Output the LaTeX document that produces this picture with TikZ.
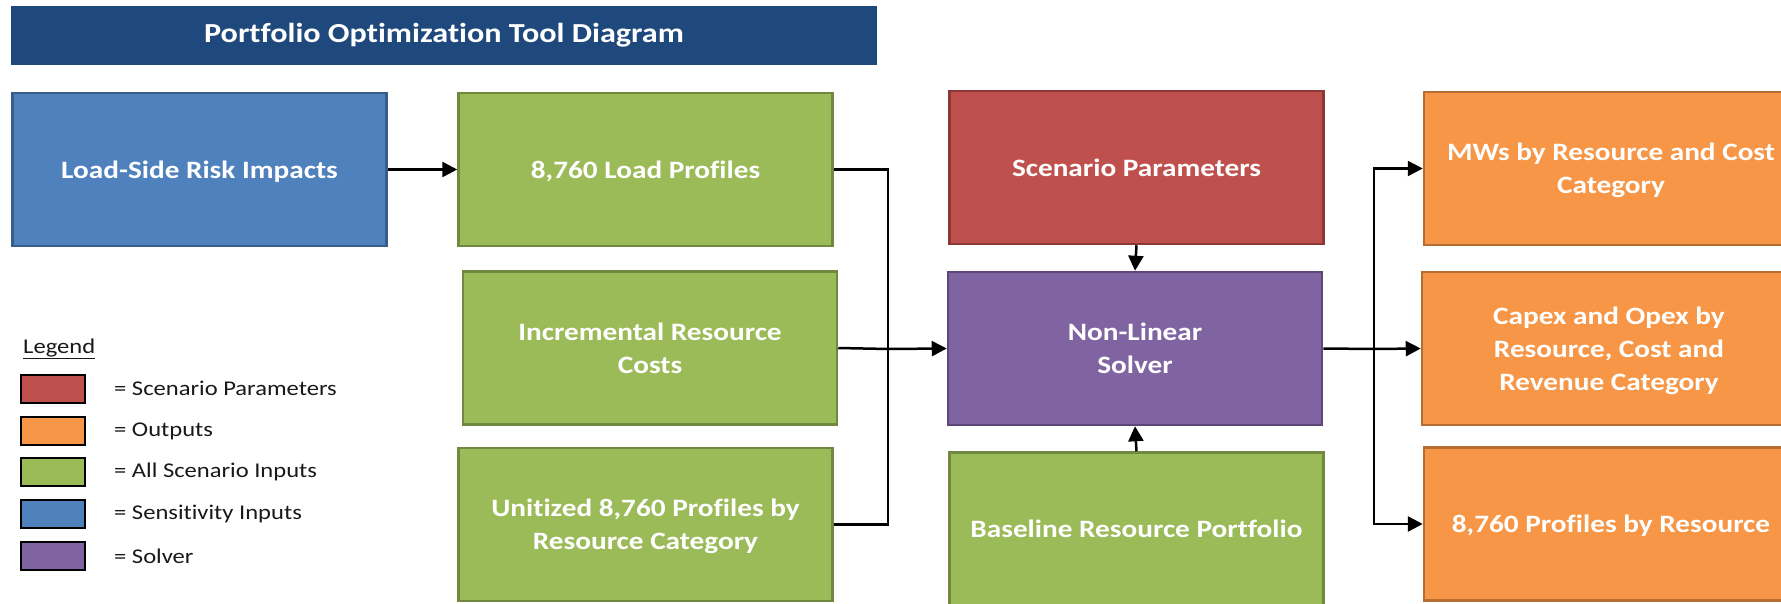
\documentclass[tikz,border=0pt]{standalone}
\usepackage{fontspec}
\setmainfont{Carlito}[FakeStretch=1.17, Ligatures=NoCommon]
\usetikzlibrary{arrows.meta}
\definecolor{tblue}{HTML}{1F497D}
\definecolor{cblue}{HTML}{4F81BD}\definecolor{bblue}{HTML}{385D8A}
\definecolor{cgreen}{HTML}{9BBB59}\definecolor{bgreen}{HTML}{71893F}
\definecolor{cred}{HTML}{C0504D}\definecolor{bred}{HTML}{8C3836}
\definecolor{cpurple}{HTML}{8064A2}\definecolor{bpurple}{HTML}{5C4776}
\definecolor{corange}{HTML}{F79646}\definecolor{borange}{HTML}{B66D31}
\tikzset{
  box/.style={draw=b#1, fill=c#1, line width=2.5pt, minimum width=374pt, minimum height=153pt,
    text=white, font=\fontsize{25}{33}\selectfont\bfseries, align=center, inner sep=0pt,
    text depth=0pt},
  conn/.style={line width=2.5pt, draw=black},
  arr/.style={conn, -{Triangle[length=15pt,width=15pt]}},
  swatch/.style={draw=black, fill=c#1, line width=2pt, minimum width=64pt, minimum height=28pt, inner sep=0pt},
  legtext/.style={anchor=west, font=\fontsize{21}{24}\selectfont, text=black!90, inner sep=0pt}
}
\begin{document}
\begin{tikzpicture}[x=1pt,y=-1pt]
\useasboundingbox (0,0) rectangle (1781,604);
\clip (0,0) rectangle (1781,604);
\fill[white] (0,0) rectangle (1781,604);
% title
\node[fill=tblue, minimum width=866pt, minimum height=59pt, inner sep=0pt, text=white,
  font=\fontsize{27.5}{30}\selectfont\bfseries] (title) at (444,35.5) {Portfolio Optimization Tool Diagram};
% boxes
\node[box=blue] (ls) at (199.5,169.5) {Load-Side Risk Impacts};
\node[box=green] (lp) at (645.5,169.5) {8,760 Load Profiles};
\node[box=green] (ir) at (650,348) {Incremental Resource\\Costs};
\node[box=green] (ut) at (645.5,524.5) {Unitized 8,760 Profiles by\\Resource Category};
\node[box=red] (sp) at (1136.5,167.5) {Scenario Parameters};
\node[box=purple] (nl) at (1135,348.5) {Non-Linear\\Solver};
\node[box=green] (bl) at (1136.5,529) {Baseline Resource Portfolio};
\node[box=orange] (mw) at (1611,168.5) {MWs by Resource and Cost\\Category};
\node[box=orange] (cx) at (1609,348.5) {Capex and Opex by\\Resource, Cost and\\Revenue Category};
\node[box=orange] (pr) at (1611,524) {8,760 Profiles by Resource};
% connectors
\coordinate (ji) at (888,349);
\coordinate (jo) at (1374,349);
\draw[arr] (ls.east) -- (lp.west);
\draw[conn] (lp.east) -| (ji);
\draw[conn] (ut.east) -| (ji);
\draw[conn] (ir.east) -- (ji);
\draw[arr] (ji) -- (nl.west);
\draw[arr] (sp.south) -- (nl.north);
\draw[arr] (bl.north) -- (nl.south);
\draw[conn] (nl.east) -- (jo);
\draw[arr] (jo) |- (mw.west);
\draw[arr] (jo) -- (cx.west);
\draw[arr] (jo) |- (pr.west);
% legend
\node[legtext] (lg) at (23,349) {\underline{Legend}};
\node[swatch=red] (s1) at (52.5,388.5) {};
\node[swatch=orange] (s2) at (52.5,431) {};
\node[swatch=green] (s3) at (52.5,472) {};
\node[swatch=blue] (s4) at (52.5,514) {};
\node[swatch=purple] (s5) at (52.5,556) {};
\node[legtext] (t1) at (114,388.5) {= Scenario Parameters};
\node[legtext] (t2) at (114,431) {= Outputs};
\node[legtext] (t3) at (114,472) {= All Scenario Inputs};
\node[legtext] (t4) at (114,514) {= Sensitivity Inputs};
\node[legtext] (t5) at (114,556) {= Solver};
\end{tikzpicture}
\end{document}
